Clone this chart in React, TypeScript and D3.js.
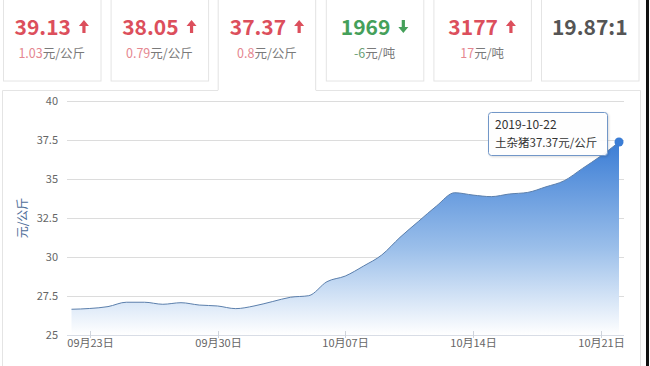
import React, { useLayoutEffect, useRef, useState } from "react";
import * as d3 from "d3";

const dates: string[] = [
  "2019-09-22","2019-09-23","2019-09-24","2019-09-25","2019-09-26","2019-09-27","2019-09-28",
  "2019-09-29","2019-09-30","2019-10-01","2019-10-02","2019-10-03","2019-10-04","2019-10-05",
  "2019-10-06","2019-10-07","2019-10-08","2019-10-09","2019-10-10","2019-10-11","2019-10-12",
  "2019-10-13","2019-10-14","2019-10-15","2019-10-16","2019-10-17","2019-10-18","2019-10-19",
  "2019-10-20","2019-10-21","2019-10-22",
];
const prices: number[] = [
  26.65, 26.7, 26.82, 27.1, 27.1, 26.97, 27.07,
  26.92, 26.86, 26.69, 26.86, 27.14, 27.42, 27.52,
  28.42, 28.78, 29.42, 30.13, 31.26, 32.27, 33.27,
  34.12, 33.97, 33.87, 34.04, 34.14, 34.5, 34.89,
  35.68, 36.47, 37.37,
];
const yTicks: number[] = [25, 27.5, 30, 32.5, 35, 37.5, 40];
const xTickDates: string[] = ["2019-09-23", "2019-09-30", "2019-10-07", "2019-10-14", "2019-10-21"];

const cardValues: string[] = ["39.13", "38.05", "37.37", "1969", "3177", "19.87:1"];
const cardChanges: string[] = ["1.03", "0.79", "0.8", "-6", "17", ""];
const cardUnits: string[] = ["元/公斤", "元/公斤", "元/公斤", "元/吨", "元/吨", ""];
const cardTrends: string[] = ["up", "up", "up", "down", "up", "none"];

const tooltipDate = "2019-10-22";
const tooltipLabel = "土杂猪37.37元/公斤";
const yTitle = "元/公斤";

const FONT = "'Noto Sans CJK SC', 'Noto Sans', sans-serif";

const parse = d3.timeParse("%Y-%m-%d");

export default function App() {
  const W = 650, H = 366;
  const data = dates.map((d, i) => ({ date: parse(d) as Date, value: prices[i] }));
  const x = d3.scaleTime()
    .domain([data[0].date, data[data.length - 1].date])
    .range([71.5, 619]);
  const y = d3.scaleLinear().domain([25, 40]).range([335, 101]);
  const line = d3.line<{ date: Date; value: number }>()
    .x((d) => x(d.date)).y((d) => y(d.value)).curve(d3.curveMonotoneX);
  const area = d3.area<{ date: Date; value: number }>()
    .x((d) => x(d.date)).y0(y(25)).y1((d) => y(d.value)).curve(d3.curveMonotoneX);
  const fmt = d3.timeFormat("%m月%d日");
  const last = data[data.length - 1];

  const cardLefts = cardValues.map((_, i) => 3 + i * 107.6);
  const cardW = 97.5;

  const textRefs = useRef<(SVGTextElement | null)[]>([]);
  const [widths, setWidths] = useState<number[]>(cardValues.map((v) => v.length * 11));
  useLayoutEffect(() => {
    const w = textRefs.current.map((el, i) => (el ? el.getComputedTextLength() : widths[i]));
    setWidths(w);
  }, []);

  const colorFor = (t: string) => (t === "up" ? "#dc4f5c" : t === "down" ? "#45a05a" : "#555555");
  const lightFor = (t: string) => (t === "up" ? "#e58790" : t === "down" ? "#6a9e74" : "#888");

  const arrow = (cx: number, top: number, dir: string, color: string) => {
    const h = 13, hw = 5, sw = 1.6, head = 6;
    let p: string;
    if (dir === "up") {
      p = `M${cx},${top} L${cx + hw},${top + head} L${cx + sw},${top + head} L${cx + sw},${top + h} L${cx - sw},${top + h} L${cx - sw},${top + head} L${cx - hw},${top + head} Z`;
    } else {
      const b = top + h;
      p = `M${cx},${b} L${cx + hw},${b - head} L${cx + sw},${b - head} L${cx + sw},${top} L${cx - sw},${top} L${cx - sw},${b - head} L${cx - hw},${b - head} Z`;
    }
    return <path d={p} fill={color} />;
  };

  return (
    <svg width={W} height={H} style={{ position: "absolute", left: 0, top: 0, background: "#fff" }} fontFamily={FONT}>
      <defs>
        <linearGradient id="areaGrad" gradientUnits="userSpaceOnUse" x1={0} y1={y(37.37)} x2={0} y2={335}>
          <stop offset="0" stopColor="#3b7dd5" />
          <stop offset="0.55" stopColor="#9bbfea" />
          <stop offset="1" stopColor="#ffffff" />
        </linearGradient>
        <filter id="shadow" x="-10%" y="-10%" width="130%" height="140%">
          <feDropShadow dx="1" dy="1" stdDeviation="1" floodColor="#000" floodOpacity="0.15" />
        </filter>
      </defs>

      {/* cards */}
      {cardValues.map((v, i) => {
        const l = cardLefts[i];
        const cx = l + cardW / 2;
        const t = cardTrends[i];
        const isTab = i === 2;
        const hasArrow = t !== "none";
        const valW = widths[i];
        const totalW = hasArrow ? valW + 18 : valW;
        const startX = hasArrow ? cx - totalW / 2 : cx;
        return (
          <g key={i}>
            {isTab ? (
              <path d={`M${l},-2 L${l},90 M${l + cardW},-2 L${l + cardW},90 M${l},-2 L${l + cardW},-2`} stroke="#e2e2e2" fill="none" />
            ) : (
              <rect x={l + 0.5} y={-4} width={cardW} height={85} fill="#fff" stroke="#e4e4e4" />
            )}
            <text ref={(el) => { textRefs.current[i] = el; }} x={startX} y={35} fontSize={21} fontWeight="bold" fill={colorFor(t)}
              textAnchor={hasArrow ? "start" : "middle"}>{v}</text>
            {hasArrow && arrow(startX + valW + 13, 20, t, colorFor(t))}
            {cardChanges[i] !== "" && (
              <text x={cx} y={58} fontSize={12.5} textAnchor="middle">
                <tspan fill={lightFor(t)}>{cardChanges[i]}</tspan>
                <tspan fill="#7a7a7a">{cardUnits[i]}</tspan>
              </text>
            )}
          </g>
        );
      })}

      {/* panel border */}
      <path d={`M2.5,370 L2.5,90.5 L${cardLefts[2]},90.5 M${cardLefts[2] + cardW},90.5 L640.5,90.5 L640.5,370`} stroke="#e4e4e4" fill="none" />

      {/* grid */}
      {yTicks.map((t) => (
        <g key={t}>
          <line x1={67} x2={624} y1={Math.round(y(t)) + 0.5} y2={Math.round(y(t)) + 0.5} stroke={t === 25 ? "#d8dde6" : "#dcdcdc"} />
          <text x={58} y={y(t) + 4} fontSize={11} fill="#666" textAnchor="end">{t}</text>
        </g>
      ))}

      {/* y title */}
      <text transform={`translate(27,218) rotate(-90)`} fontSize={12} fill="#4f6e99" textAnchor="middle">{yTitle}</text>

      {/* area */}
      <path d={area(data) || ""} fill="url(#areaGrad)" />
      <path d={line(data) || ""} fill="none" stroke="#5b7fac" strokeWidth={1} />

      {/* x ticks */}
      {xTickDates.map((d) => {
        const dt = parse(d) as Date;
        const xx = Math.round(x(dt)) + 0.5;
        return (
          <g key={d}>
            <line x1={xx} x2={xx} y1={331} y2={338} stroke="#cfd4dc" />
            <text x={xx} y={347} fontSize={11} fill="#666" textAnchor="middle">{fmt(dt)}</text>
          </g>
        );
      })}

      {/* point */}
      <circle cx={x(last.date)} cy={y(last.value)} r={4.5} fill="#3b7dd5" />

      {/* tooltip */}
      <g filter="url(#shadow)">
        <rect x={488.5} y={112.5} width={119} height={43} rx={3} fill="#fff" fillOpacity={0.92} stroke="#7297c8" />
      </g>
      <text x={495} y={129} fontSize={12} fill="#333">{tooltipDate}</text>
      <text x={495} y={147} fontSize={11.5} fill="#333">{tooltipLabel}</text>

      {/* right dark edge */}
      <rect x={646} y={0} width={3} height={H} fill="#111" />
    </svg>
  );
}
